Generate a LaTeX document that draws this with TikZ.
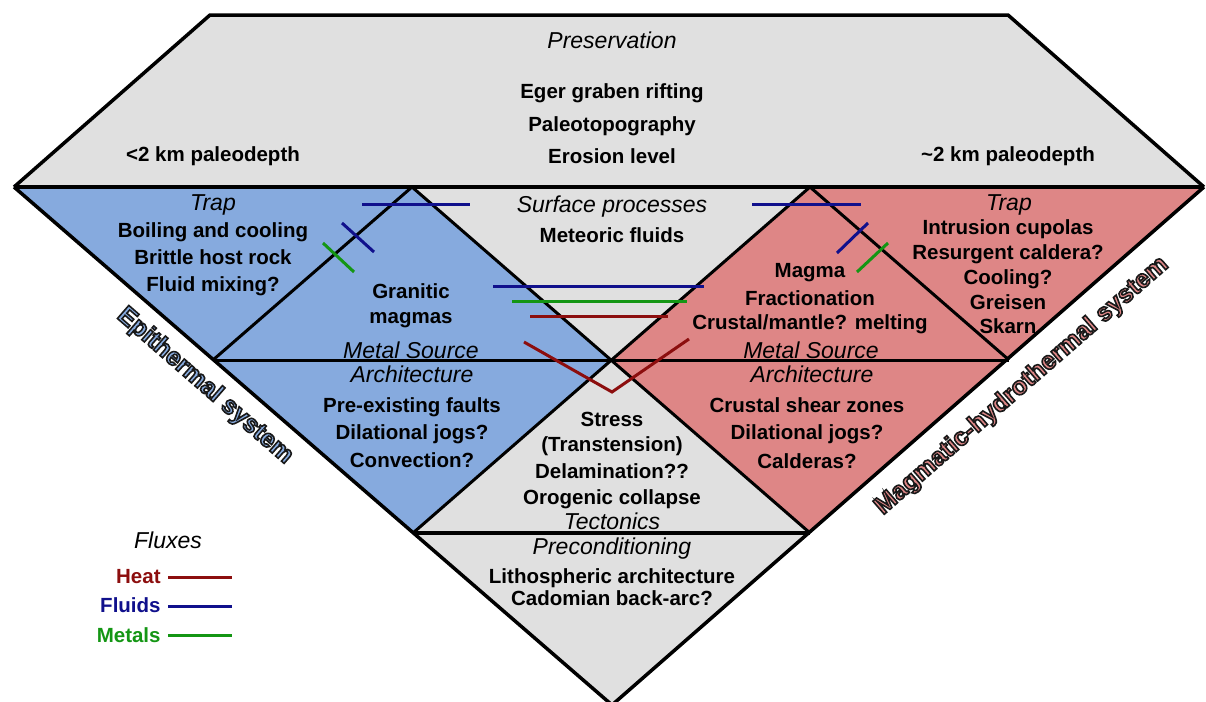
\documentclass[tikz,border=0pt]{standalone}
\usepackage{fontspec}
\setmainfont{Liberation Sans}
\definecolor{gfill}{RGB}{224,224,224}
\definecolor{bfill}{RGB}{134,170,222}
\definecolor{rfill}{RGB}{222,134,134}
\definecolor{heatc}{RGB}{140,14,14}
\definecolor{fluidc}{RGB}{16,16,140}
\definecolor{metalc}{RGB}{20,150,20}
\newcommand{\outlined}[1]{\special{pdf:literal direct 2 Tr 0.8 w 0.1 0.1 0.1 RG}#1\special{pdf:literal direct 0 Tr}}
\begin{document}
\begin{tikzpicture}[x=0.5pt,y=-0.5pt,
  bt/.style={font=\fontsize{10.25}{12}\selectfont\bfseries, anchor=base, inner sep=0pt},
  it/.style={font=\fontsize{11.5}{13}\selectfont\itshape, anchor=base, inner sep=0pt},
  side/.style={font=\fontsize{12.6}{14}\selectfont\bfseries, inner sep=0pt},
  outer/.style={line width=1.75pt, line join=miter},
  inner/.style={line width=1.5pt},
  flux/.style={line width=1.5pt},
  lg/.style={font=\fontsize{10.25}{12}\selectfont\bfseries, anchor=base east, inner sep=0pt}]
\useasboundingbox (0,0) rectangle (1206,702);
% key points
\coordinate (TL) at (210,15);
\coordinate (TR) at (1008,15);
\coordinate (A) at (14,187);
\coordinate (B) at (412,187);
\coordinate (C) at (810,187);
\coordinate (D) at (1204,187);
\coordinate (E) at (213,360);
\coordinate (F) at (612,360);
\coordinate (G) at (1009,360);
\coordinate (H) at (413,533);
\coordinate (I) at (810,533);
\coordinate (J) at (612,705);
% fills
\fill[gfill] (A) -- (TL) -- (TR) -- (D) -- cycle;
\fill[bfill] (A) -- (B) -- (F) -- (H) -- cycle;
\fill[rfill] (D) -- (C) -- (F) -- (I) -- cycle;
\fill[gfill] (B) -- (C) -- (F) -- cycle;
\fill[gfill] (F) -- (I) -- (J) -- (H) -- cycle;
% outlines
\draw[outer] (A) -- (TL) -- (TR) -- (D);
\draw[outer] (A) -- (D);
\draw[outer] (A) -- (J) -- (D);
\draw[inner] (B) -- (E);
\draw[inner] (B) -- (I);
\draw[inner] (C) -- (H);
\draw[inner] (C) -- (G);
\draw[inner] (E) -- (G);
\draw[line width=2pt] (H) -- (I);
% fluxes
\draw[flux,fluidc] (362,204) -- (470,204);
\draw[flux,fluidc] (752,204) -- (861,204);
\draw[flux,fluidc] (342,223) -- (374,252);
\draw[flux,metalc] (323,243) -- (354,272);
\draw[flux,fluidc] (837,253) -- (868,223);
\draw[flux,metalc] (857,272) -- (888,243);
\draw[flux,fluidc] (493,286) -- (704,286);
\draw[flux,metalc] (512,301) -- (687,301);
\draw[flux,heatc] (530,316) -- (668,316);
\draw[flux,heatc] (524,342) -- (612,392) -- (689,339);
% top texts
\node[it] (pres) at (612,48) {Preservation};
\node[bt] (eger) at (612,98) {Eger graben rifting};
\node[bt] (paleo) at (612,131) {Paleotopography};
\node[bt] (eros) at (612,163) {Erosion level};
\node[bt] (lt2) at (213,161) {<2 km paleodepth};
\node[bt] (ap2) at (1008,161) {\char"007E 2 km paleodepth};
% left trap
\node[it] (ltrap) at (213,210) {Trap};
\node[bt] (l1) at (213,237) {Boiling and cooling};
\node[bt] (l2) at (213,264) {Brittle host rock};
\node[bt] (l3) at (213,291) {Fluid mixing?};
% granitic
\node[bt] (g1) at (411,298) {Granitic};
\node[bt] (g2) at (411,323) {magmas};
\node[it] (ms1) at (411,358) {Metal Source};
\node[it] (ar1) at (412,382) {Architecture};
\node[bt] (a1) at (412,412) {Pre-existing faults};
\node[bt] (a2) at (412,439) {Dilational jogs?};
\node[bt] (a3) at (412,467) {Convection?};
% centre
\node[it] (surf) at (612,212) {Surface processes};
\node[bt] (met) at (612,242) {Meteoric fluids};
\node[bt] (s1) at (612,426) {Stress};
\node[bt] (s2) at (612,451) {(Transtension)};
\node[bt] (s3) at (612,478) {Delamination??};
\node[bt] (s4) at (612,504) {Orogenic collapse};
\node[it] (tect) at (612,529) {Tectonics};
\node[it] (prec) at (612,554) {Preconditioning};
\node[bt] (p1) at (612,583) {Lithospheric architecture};
\node[bt] (p2) at (612,605) {Cadomian back-arc?};
% right trap
\node[it] (rtrap) at (1009,210) {Trap};
\node[bt] (r1) at (1008,234) {Intrusion cupolas};
\node[bt] (r2) at (1008,259) {Resurgent caldera?};
\node[bt] (r3) at (1008,284) {Cooling?};
\node[bt] (r4) at (1008,309) {Greisen};
\node[bt] (r5) at (1008,333) {Skarn};
% magma
\node[bt] (m1) at (810,277) {Magma};
\node[bt] (m2) at (810,305) {Fractionation};
\node[bt] (m3) at (810,329) {Crustal/mantle? melting};
\node[it] (ms2) at (811,358) {Metal Source};
\node[it] (ar2) at (812,382) {Architecture};
\node[bt] (c1) at (807,412) {Crustal shear zones};
\node[bt] (c2) at (807,439) {Dilational jogs?};
\node[bt] (c3) at (807,468) {Calderas?};
% side labels
\node[side, rotate=-41, text=bfill] (epi) at (205,386) {\outlined{Epithermal system}};
\node[side, rotate=41, text=rfill] (mag) at (1022,386) {\outlined{Magmatic-hydrothermal system}};
% legend
\node[it] (flx) at (168,548) {Fluxes};
\node[lg, text=heatc] (lh) at (161,583) {Heat};
\node[lg, text=fluidc] (lf) at (161,612) {Fluids};
\node[lg, text=metalc] (lm) at (161,642) {Metals};
\coordinate (h0) at (168,577); \coordinate (h1) at (232,577);
\coordinate (f0) at (168,606); \coordinate (f1) at (232,606);
\coordinate (m0) at (168,635); \coordinate (m1e) at (232,635);
\draw[flux,heatc] (h0) -- (h1);
\draw[flux,fluidc] (f0) -- (f1);
\draw[flux,metalc] (m0) -- (m1e);
\end{tikzpicture}
\end{document}
